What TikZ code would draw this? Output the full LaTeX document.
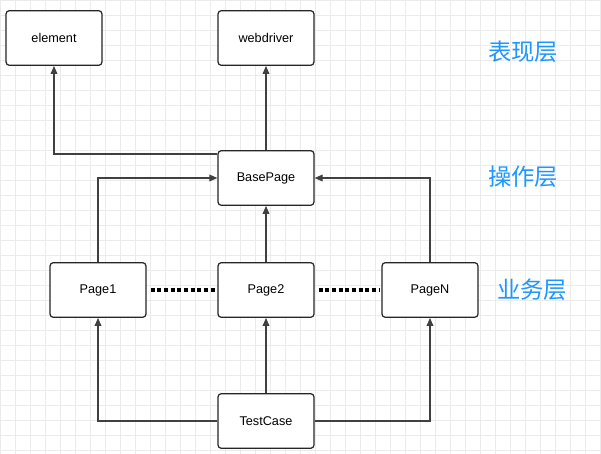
\documentclass[tikz,border=0pt]{standalone}
\usepackage{fontspec}
\setmainfont{Liberation Sans}
\newfontfamily\cjk{Noto Sans CJK SC}
\usetikzlibrary{arrows.meta}
\definecolor{lblue}{RGB}{30,150,255}
\begin{document}
\begin{tikzpicture}[x=0.75pt,y=-0.75pt,
  box/.style={draw=black!85,line width=0.9pt,rounded corners=2.5pt,minimum width=72pt,minimum height=41pt,inner sep=0pt,font=\fontsize{9.5pt}{11pt}\selectfont,fill=white},
  arr/.style={draw=black!75,line width=0.9pt,-{Triangle[length=6pt,width=5pt]}},
  lay/.style={font=\cjk\fontsize{17.5pt}{19pt}\selectfont,text=lblue},
  dots/.style={line width=3.2pt,dash pattern=on 3pt off 2pt,draw=black}]
\useasboundingbox (0,0) rectangle (601,454);
\fill[white] (0,0) rectangle (601,454);
\foreach \i in {0,15,...,600} {\draw[black!8,line width=0.5pt] (\i,0) -- (\i,454);}
\foreach \i in {0,15,...,450} {\draw[black!8,line width=0.5pt] (0,\i) -- (601,\i);}
\node[box] (el) at (54,38) {element};
\node[box] (wd) at (266,38) {webdriver};
\node[box] (bp) at (266,178) {BasePage};
\node[box] (p1) at (98,290) {Page1};
\node[box] (p2) at (266,290) {Page2};
\node[box] (pn) at (430,290) {PageN};
\node[box] (tc) at (266,421) {TestCase};
\node[lay] (l1) at (523,52) {表现层};
\node[lay] (l2) at (523,177) {操作层};
\node[lay] (l3) at (532,290) {业务层};
\draw[arr] (bp.north west|-0,154) -| (el.south);
\draw[arr] (bp.north) -- (wd.south);
\draw[arr] (p1.north) |- (bp.west);
\draw[arr] (pn.north) |- (bp.east);
\draw[arr] (p2.north) -- (bp.south);
\draw[arr] (tc.west) -| (p1.south);
\draw[arr] (tc.east) -| (pn.south);
\draw[arr] (tc.north) -- (p2.south);
\draw[dots] ([xshift=3pt]p1.east) -- ([xshift=-1pt]p2.west);
\draw[dots] ([xshift=3pt]p2.east) -- ([xshift=-1pt]pn.west);
\end{tikzpicture}
\end{document}
